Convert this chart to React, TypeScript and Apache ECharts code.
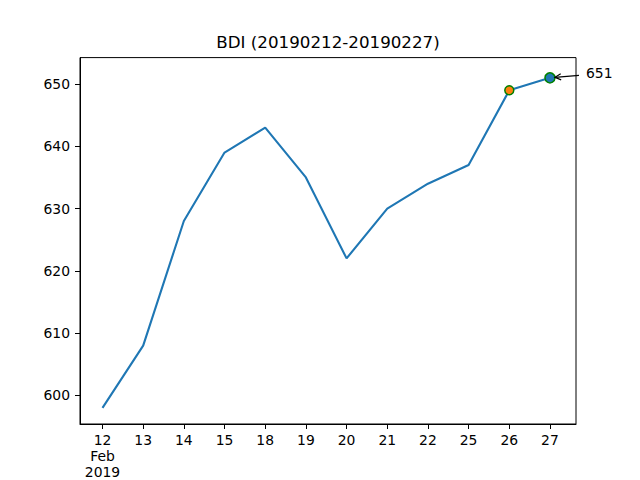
import React, { useEffect, useRef } from "react";
import * as echarts from "echarts";

const titleText = "BDI (20190212-20190227)";
const categories = ["12", "13", "14", "15", "18", "19", "20", "21", "22", "25", "26", "27"];
const firstLabelExtra = ["Feb", "2019"];
const values = [598, 608, 628, 639, 643, 635, 622, 630, 634, 637, 649, 651];
const yTicks = [600, 610, 620, 630, 640, 650];
const markerIdx = [10, 11];
const markerFill = ["#ff7f0e", "#1f77b4"];
const annotIdx = 11;

const FONT = "DejaVu Sans";

export default function App() {
  const ref = useRef<HTMLDivElement>(null);
  useEffect(() => {
    if (!ref.current) return;
    const chart = echarts.init(ref.current, null, { renderer: "svg" });
    const idx = categories.map((_, i) => i);
    chart.setOption({
      animation: false,
      grid: {
        left: 80,
        right: 64,
        top: 57.6,
        bottom: 52.8,
        show: true,
        borderColor: "#000",
        borderWidth: 1,
        backgroundColor: "transparent",
      },
      xAxis: {
        type: "value",
        min: -0.553,
        max: 11.64,
        axisLine: { show: true, onZero: false, lineStyle: { color: "#000", width: 1 } },
        splitLine: { show: false },
        axisTick: {
          show: true,
          customValues: idx,
          length: 5,
          lineStyle: { color: "#000", width: 1 },
        },
        axisLabel: {
          customValues: idx,
          margin: 8,
          color: "#000",
          fontFamily: FONT,
          fontSize: 13.9,
          lineHeight: 16,
          formatter: (v: number) => {
            const i = Math.round(v);
            const s = categories[i] ?? "";
            return i === 0 ? [s, ...firstLabelExtra].join("\n") : s;
          },
        },
      },
      yAxis: {
        type: "value",
        min: 595.4,
        max: 654.25,
        axisLine: { show: true, onZero: false, lineStyle: { color: "#000", width: 1 } },
        splitLine: { show: false },
        axisTick: {
          show: true,
          customValues: yTicks,
          length: 5,
          lineStyle: { color: "#000", width: 1 },
        },
        axisLabel: {
          customValues: yTicks,
          margin: 10,
          color: "#000",
          fontFamily: FONT,
          fontSize: 13.9,
        },
      },
      series: [
        {
          type: "line",
          data: values.map((v, i) => [i, v]),
          showSymbol: false,
          symbol: "none",
          lineStyle: { color: "#1f77b4", width: 2.1 },
          z: 2,
        },
        ...markerIdx.map((mi, k) => ({
          type: "scatter",
          data: [[mi, values[mi]]],
          symbol: "circle",
          symbolSize: k === 0 ? 9 : 10,
          itemStyle: { color: markerFill[k], borderColor: "#008000", borderWidth: 1.5, opacity: 1 },
          z: 3 + k,
        })),
      ],
    });
    const p = chart.convertToPixel({ gridIndex: 0 }, [annotIdx, values[annotIdx]]) as number[];
    const tipX = p[0] + 5;
    const tipY = p[1] - 0.5;
    const startX = p[0] + 29;
    const startY = p[1] - 2.5;
    const ang = Math.atan2(startY - tipY, startX - tipX);
    const hl = 6;
    const hw = 3;
    const bx = tipX + hl * Math.cos(ang);
    const by = tipY + hl * Math.sin(ang);
    const nx = -Math.sin(ang);
    const ny = Math.cos(ang);
    chart.setOption({
      graphic: [
        {
          type: "text",
          x: 328,
          y: 50,
          style: {
            text: titleText,
            fontFamily: FONT,
            fontSize: 16.7,
            fill: "#000",
            textAlign: "center",
            textVerticalAlign: "bottom",
          },
        },
        {
          type: "line",
          shape: { x1: startX, y1: startY, x2: tipX, y2: tipY },
          style: { stroke: "#000", lineWidth: 1.2 },
          z: 10,
        },
        {
          type: "polyline",
          shape: {
            points: [
              [bx + hw * nx, by + hw * ny],
              [tipX, tipY],
              [bx - hw * nx, by - hw * ny],
            ],
          },
          style: { stroke: "#000", lineWidth: 1.2, fill: null },
          z: 10,
        },
        {
          type: "text",
          x: p[0] + 36,
          y: p[1] - 4.5,
          style: {
            text: String(values[annotIdx]),
            fontFamily: FONT,
            fontSize: 13.9,
            fill: "#000",
            textAlign: "left",
            textVerticalAlign: "middle",
          },
          z: 10,
        },
      ],
    });
    return () => chart.dispose();
  }, []);
  return (
    <div
      ref={ref}
      style={{ position: "fixed", left: 0, top: 0, width: 640, height: 480, background: "#fff" }}
    />
  );
}
